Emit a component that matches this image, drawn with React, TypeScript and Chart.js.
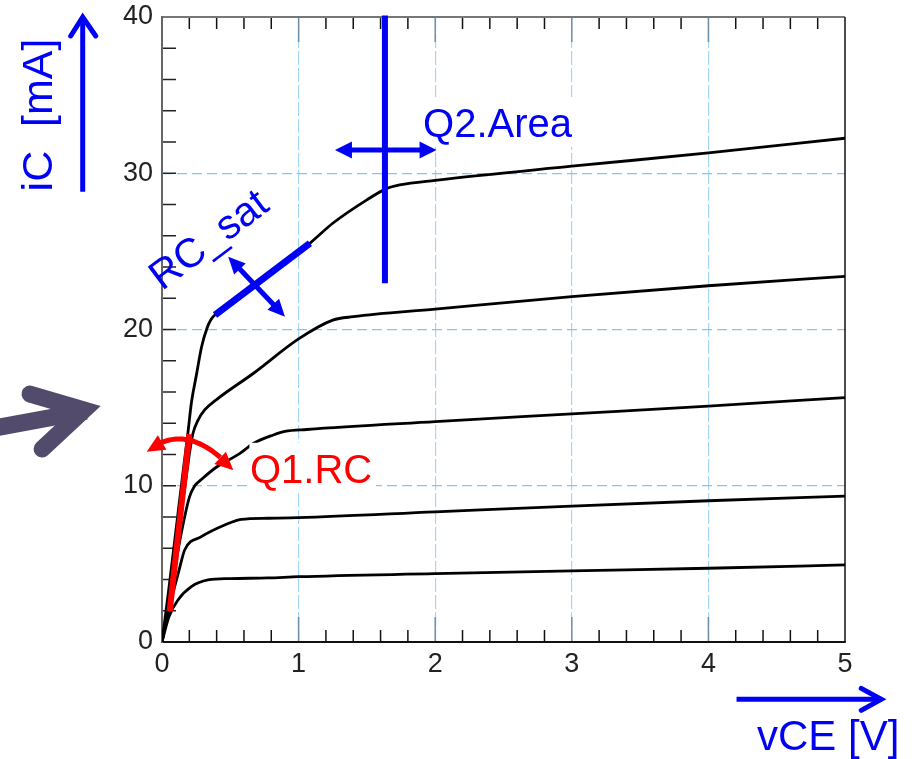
import React, { useEffect, useRef } from 'react';
import { Chart, registerables } from 'chart.js';

Chart.register(...registerables);

// ---------------- data ----------------
const xTickValues = [0, 1, 2, 3, 4, 5];
const yTickValues = [0, 10, 20, 30, 40];

const vce1 = [0, 0.05, 0.117, 0.215, 0.337, 0.5, 0.776, 1, 2, 3, 4, 5];
const ic1 = [0, 1.6, 2.69, 3.54, 3.97, 4.06, 4.1, 4.18, 4.37, 4.55, 4.72, 4.93];

const vce2 = [0, 0.068, 0.125, 0.166, 0.288, 0.459, 0.58, 0.776, 1, 2, 3, 4, 5];
const ic2 = [0, 2.69, 4.6, 5.89, 6.74, 7.49, 7.85, 7.92, 7.96, 8.33, 8.7, 9.04, 9.34];

const vce3 = [0, 0.06, 0.141, 0.202, 0.24, 0.288, 0.4, 0.571, 0.668, 0.815, 0.9, 1.06, 2, 3, 4, 5];
const ic3 = [0, 3.0, 6.96, 9.3, 10.0, 10.4, 11.2, 12.07, 12.7, 13.25, 13.48, 13.6, 14.1, 14.6, 15.1, 15.64];

const vce4 = [0, 0.06, 0.117, 0.154, 0.178, 0.205, 0.227, 0.264, 0.312, 0.397, 0.67, 1.0, 1.25, 1.4, 2, 3, 4, 5];
const ic4 = [0, 3.2, 6.9, 9.1, 10.6, 12.3, 13.36, 14.2, 14.85, 15.5, 17.2, 19.4, 20.6, 20.82, 21.3, 22.1, 22.8, 23.4];

const vce5 = [0, 0.05, 0.1, 0.15, 0.19, 0.215, 0.25, 0.29, 0.33, 0.36, 0.39, 0.7, 1.08, 1.25, 1.5, 1.64, 1.74, 2, 3, 4, 5];
const ic5 = [0, 3.4, 7.0, 10.6, 13.4, 15.3, 17.0, 18.9, 20.1, 20.65, 20.95, 23.0, 25.5, 26.8, 28.3, 29.0, 29.25, 29.55, 30.45, 31.3, 32.24];

// ---------------- annotations (data coordinates) ----------------
const q1Line = [[0.056, 1.94], [0.2, 13.3]];
const q1Arc = [[-0.112, 12.18], [0.193, 12.93], [0.522, 11.0]];
const q1Label = { text: 'Q1.RC', x: 0.644, y: 10.2 };
const q1Box = [[0.64, 12.75], [1.567, 9.6]];

const satLine = [[0.388, 20.93], [1.083, 25.52]];
const satArrow = [[0.485, 24.66], [0.9, 20.82]];
const satLabel = { text: 'RC_sat', x: 0.0, y: 22.45, angle: -37 };

const q2Line = [[1.632, 40.1], [1.632, 22.96]];
const q2Arrow = [[1.266, 31.49], [2.01, 31.49]];
const q2Label = { text: 'Q2.Area', x: 1.911, y: 32.32 };
const q2Box = [[1.874, 34.88], [3.031, 31.68]];

const yTitle = { text: 'iC  [mA]', x: -0.805, y: 33.73 };
const yTitleArrow = [[-0.5805, 28.82], [-0.5805, 40.13]];
const xTitle = { text: 'vCE [V]', x: 4.356, y: -6.91 };
const xTitleArrow = [[4.206, -3.67], [5.28, -3.67]];

const grayShaft = [[-1.2225, 13.7], [-0.556, 14.78]];
const grayHead = [[-0.966, 15.87], [-0.571, 14.85], [-0.878, 12.35]];

const BLUE = '#0000f5';
const RED = '#ff0000';
const FONT = '"Liberation Sans", Arial, Helvetica, sans-serif';

export default function App() {
  const ref = useRef<HTMLCanvasElement>(null);

  useEffect(() => {
    const canvas = ref.current as HTMLCanvasElement;
    const toPts = (xs: number[], ys: number[]) => xs.map((x, i) => ({ x, y: ys[i] }));
    const series: [number[], number[]][] = [
      [vce1, ic1],
      [vce2, ic2],
      [vce3, ic3],
      [vce4, ic4],
      [vce5, ic5],
    ];

    const head = (ctx: CanvasRenderingContext2D, tx: number, ty: number, fx: number, fy: number, len: number, wid: number, color: string) => {
      const a = Math.atan2(ty - fy, tx - fx);
      ctx.save();
      ctx.translate(tx, ty);
      ctx.rotate(a);
      ctx.beginPath();
      ctx.moveTo(0, 0);
      ctx.lineTo(-len, -wid / 2);
      ctx.lineTo(-len, wid / 2);
      ctx.closePath();
      ctx.fillStyle = color;
      ctx.fill();
      ctx.restore();
    };
    const seg = (ctx: CanvasRenderingContext2D, x1: number, y1: number, x2: number, y2: number, w: number, color: string, cap: CanvasLineCap = 'butt') => {
      ctx.save();
      ctx.beginPath();
      ctx.moveTo(x1, y1);
      ctx.lineTo(x2, y2);
      ctx.lineWidth = w;
      ctx.strokeStyle = color;
      ctx.lineCap = cap;
      ctx.stroke();
      ctx.restore();
    };

    const decor = {
      id: 'decor',
      beforeDatasetsDraw(chart: any) {
        const ctx: CanvasRenderingContext2D = chart.ctx;
        const { left, right, top, bottom } = chart.chartArea;
        const xs = chart.scales.x;
        const ys = chart.scales.y;
        ctx.save();
        for (let k = 1; k < 25; k++) {
          const v = k * 0.2;
          const px = xs.getPixelForValue(v);
          const major = k % 5 === 0;
          const len = major ? 25 : 12;
          const col = major ? '#6f8ea6' : '#111';
          seg(ctx, px, bottom, px, bottom - len, 1.5, col);
          seg(ctx, px, top, px, top + len, 1.5, col);
        }
        for (let k = 1; k < 20; k++) {
          const py = ys.getPixelForValue(k * 2);
          seg(ctx, left, py, left + 14, py, 1.5, '#222');
        }
        seg(ctx, left, top, right, top, 2, '#777');
        seg(ctx, right, top, right, bottom, 1.5, '#111');
        seg(ctx, left, bottom, right + 0.75, bottom, 2, '#111');
        seg(ctx, left, top - 1, left, bottom + 1, 2, '#666');
        ctx.restore();
      },
      afterDatasetsDraw(chart: any) {
        const ctx: CanvasRenderingContext2D = chart.ctx;
        const X = (v: number) => chart.scales.x.getPixelForValue(v);
        const Y = (v: number) => chart.scales.y.getPixelForValue(v);
        ctx.save();

        ctx.fillStyle = '#ffffff';
        for (const b of [q1Box, q2Box]) {
          const x1 = X(b[0][0]), y1 = Y(b[0][1]), x2 = X(b[1][0]), y2 = Y(b[1][1]);
          ctx.fillRect(x1, y1, x2 - x1, y2 - y1);
        }

        // ---- Q1 (red) ----
        seg(ctx, X(q1Line[0][0]), Y(q1Line[0][1]), X(q1Line[1][0]), Y(q1Line[1][1]), 6, RED);
        {
          const p0 = [X(q1Arc[0][0]), Y(q1Arc[0][1])];
          const m = [X(q1Arc[1][0]), Y(q1Arc[1][1])];
          const p2 = [X(q1Arc[2][0]), Y(q1Arc[2][1])];
          const c = [2 * m[0] - (p0[0] + p2[0]) / 2, 2 * m[1] - (p0[1] + p2[1]) / 2];
          const B = (t: number) => [
            (1 - t) * (1 - t) * p0[0] + 2 * (1 - t) * t * c[0] + t * t * p2[0],
            (1 - t) * (1 - t) * p0[1] + 2 * (1 - t) * t * c[1] + t * t * p2[1],
          ];
          ctx.beginPath();
          for (let i = 0; i <= 40; i++) {
            const t = 0.14 + (0.72 * i) / 40;
            const p = B(t);
            if (i === 0) ctx.moveTo(p[0], p[1]);
            else ctx.lineTo(p[0], p[1]);
          }
          ctx.lineWidth = 5;
          ctx.strokeStyle = RED;
          ctx.stroke();
          const a = B(0.2);
          const b = B(0.8);
          head(ctx, p0[0], p0[1], a[0], a[1], 18, 17, RED);
          head(ctx, p2[0], p2[1], b[0], b[1], 18, 17, RED);
        }
        ctx.font = `40px ${FONT}`;
        ctx.fillStyle = RED;
        ctx.textAlign = 'left';
        ctx.textBaseline = 'alphabetic';
        ctx.fillText(q1Label.text, X(q1Label.x), Y(q1Label.y));

        // ---- RC_sat (blue) ----
        seg(ctx, X(satLine[0][0]), Y(satLine[0][1]), X(satLine[1][0]), Y(satLine[1][1]), 7, BLUE);
        {
          const ax = X(satArrow[0][0]), ay = Y(satArrow[0][1]);
          const bx = X(satArrow[1][0]), by = Y(satArrow[1][1]);
          const L = Math.hypot(bx - ax, by - ay);
          const ux = (bx - ax) / L, uy = (by - ay) / L;
          seg(ctx, ax + ux * 12, ay + uy * 12, bx - ux * 12, by - uy * 12, 5, BLUE);
          head(ctx, ax, ay, bx, by, 17, 16, BLUE);
          head(ctx, bx, by, ax, ay, 17, 16, BLUE);
        }
        ctx.save();
        ctx.translate(X(satLabel.x), Y(satLabel.y));
        ctx.rotate((satLabel.angle * Math.PI) / 180);
        ctx.fillStyle = BLUE;
        ctx.font = `41px ${FONT}`;
        ctx.fillText(satLabel.text, 0, 0);
        ctx.restore();

        // ---- Q2 (blue) ----
        seg(ctx, X(q2Line[0][0]), Y(q2Line[0][1]), X(q2Line[1][0]), Y(q2Line[1][1]), 6, BLUE);
        {
          const ax = X(q2Arrow[0][0]), ay = Y(q2Arrow[0][1]);
          const bx = X(q2Arrow[1][0]), by = Y(q2Arrow[1][1]);
          seg(ctx, ax + 12, ay, bx - 12, by, 5, BLUE);
          head(ctx, ax, ay, bx, by, 17, 17, BLUE);
          head(ctx, bx, by, ax, ay, 17, 17, BLUE);
        }
        ctx.fillStyle = BLUE;
        ctx.font = `40px ${FONT}`;
        ctx.fillText(q2Label.text, X(q2Label.x), Y(q2Label.y));

        // ---- axis titles ----
        {
          const sx = X(yTitleArrow[0][0]), sy = Y(yTitleArrow[0][1]);
          const tx = X(yTitleArrow[1][0]), ty = Y(yTitleArrow[1][1]);
          seg(ctx, sx, sy, tx, ty + 2, 5, BLUE, 'butt');
          ctx.save();
          ctx.beginPath();
          ctx.moveTo(tx - 12, ty + 21);
          ctx.lineTo(tx, ty + 2);
          ctx.lineTo(tx + 13, ty + 21);
          ctx.lineWidth = 5;
          ctx.lineCap = 'round';
          ctx.lineJoin = 'miter';
          ctx.strokeStyle = BLUE;
          ctx.stroke();
          ctx.restore();
        }
        ctx.save();
        ctx.translate(X(yTitle.x), Y(yTitle.y));
        ctx.rotate(-Math.PI / 2);
        ctx.textAlign = 'center';
        ctx.fillStyle = BLUE;
        ctx.font = `43px ${FONT}`;
        ctx.fillText(yTitle.text, 0, 0);
        ctx.restore();

        {
          const sx = X(xTitleArrow[0][0]), sy = Y(xTitleArrow[0][1]);
          const tx = X(xTitleArrow[1][0]), ty = Y(xTitleArrow[1][1]);
          seg(ctx, sx, sy, tx - 2, ty, 5, BLUE, 'butt');
          ctx.save();
          ctx.beginPath();
          ctx.moveTo(tx - 22, ty - 11);
          ctx.lineTo(tx - 2, ty);
          ctx.lineTo(tx - 22, ty + 11);
          ctx.lineWidth = 5;
          ctx.lineCap = 'round';
          ctx.strokeStyle = BLUE;
          ctx.stroke();
          ctx.restore();
        }
        ctx.fillStyle = BLUE;
        ctx.font = `42px ${FONT}`;
        ctx.textAlign = 'left';
        ctx.fillText(xTitle.text, X(xTitle.x), Y(xTitle.y));

        // ---- gray pointer arrow ----
        ctx.save();
        ctx.strokeStyle = '#524b6b';
        ctx.lineWidth = 17;
        ctx.lineCap = 'butt';
        ctx.beginPath();
        ctx.moveTo(X(grayShaft[0][0]), Y(grayShaft[0][1]));
        ctx.lineTo(X(grayShaft[1][0]), Y(grayShaft[1][1]));
        ctx.stroke();
        ctx.lineCap = 'round';
        ctx.lineJoin = 'miter';
        ctx.beginPath();
        ctx.moveTo(X(grayHead[0][0]), Y(grayHead[0][1]));
        ctx.lineTo(X(grayHead[1][0]), Y(grayHead[1][1]));
        ctx.lineTo(X(grayHead[2][0]), Y(grayHead[2][1]));
        ctx.stroke();
        ctx.restore();

        ctx.restore();
      },
    };

    const chart = new Chart(canvas, {
      type: 'line',
      data: {
        datasets: series.map(([xs, ys], i) => ({
          label: `IB${i + 1}`,
          data: toPts(xs, ys),
          borderColor: '#000000',
          borderWidth: 2.8,
          pointRadius: 0,
          fill: false,
          cubicInterpolationMode: 'monotone' as const,
        })),
      },
      options: {
        animation: false,
        responsive: false,
        maintainAspectRatio: false,
        layout: { padding: { left: 0, right: 74, top: 17, bottom: 0 } },
        plugins: { legend: { display: false }, tooltip: { enabled: false } },
        scales: {
          x: {
            type: 'linear',
            min: 0,
            max: 5,
            afterBuildTicks: (s: any) => {
              s.ticks = xTickValues.map((v) => ({ value: v }));
            },
            afterFit: (s: any) => {
              s.height = 117;
              s.paddingLeft = 0;
              s.paddingRight = 0;
            },
            ticks: {
              padding: 6,
              color: '#222222',
              font: { size: 27, family: FONT },
              maxRotation: 0,
              autoSkip: false,
              callback: (v: any) => String(v),
            },
            grid: {
              drawTicks: false,
              lineWidth: 1.2,
              color: (c: any) => (c.tick && c.tick.value > 0 && c.tick.value < 5 ? '#a3d5f4' : 'rgba(0,0,0,0)'),
            },
            border: { display: false, dash: [14, 3] },
          },
          y: {
            type: 'linear',
            min: 0,
            max: 40,
            afterBuildTicks: (s: any) => {
              s.ticks = yTickValues.map((v) => ({ value: v }));
            },
            afterFit: (s: any) => {
              s.width = 162;
              s.paddingTop = 0;
              s.paddingBottom = 0;
            },
            ticks: {
              padding: 9,
              color: '#222222',
              font: { size: 27, family: FONT },
              autoSkip: false,
              callback: (v: any) => String(v),
            },
            grid: {
              drawTicks: false,
              lineWidth: 1.2,
              color: (c: any) => (c.tick && c.tick.value > 0 && c.tick.value < 40 ? '#86c5ee' : 'rgba(0,0,0,0)'),
            },
            border: { display: false, dash: [10, 5] },
          },
        },
      },
      plugins: [decor],
    } as any);

    return () => chart.destroy();
  }, []);

  return (
    <div style={{ position: 'absolute', left: 0, top: 0, width: 919, height: 759, background: '#ffffff' }}>
      <canvas ref={ref} width={919} height={759} style={{ display: 'block' }} />
    </div>
  );
}
